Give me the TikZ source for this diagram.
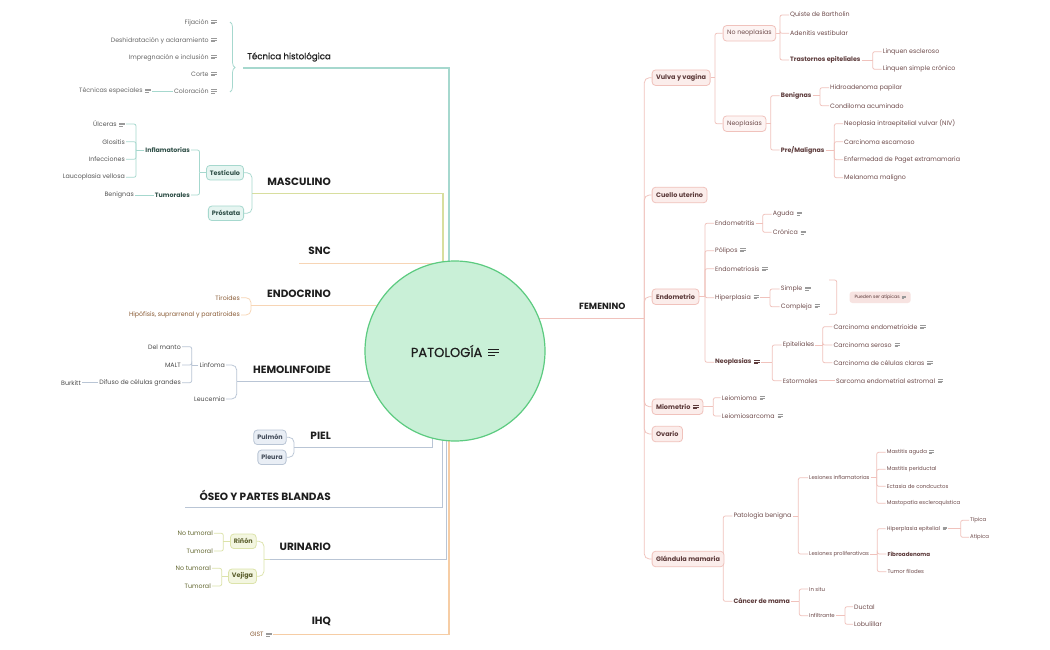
\documentclass[tikz,border=0pt]{standalone}
\usepackage{fontspec}
\setmainfont{Poppins}
\newfontfamily\popmed[FakeBold=0.6]{Poppins}
\usetikzlibrary{backgrounds,decorations.pathreplacing}
\definecolor{tecLine}{HTML}{A6D8CE}
\definecolor{mascLine}{HTML}{D8DE9E}
\definecolor{peachLine}{HTML}{F7D5B5}
\definecolor{greyBlue}{HTML}{B9C5D5}
\definecolor{ihqLine}{HTML}{F6CDA5}
\definecolor{femLine}{HTML}{F0C2BC}
\definecolor{femFill}{HTML}{FBEDEB}
\definecolor{femText}{HTML}{5C3A3A}
\definecolor{femLeaf}{HTML}{6E4B4B}
\definecolor{mintFill}{HTML}{E6F5F1}
\definecolor{mintText}{HTML}{2F4F47}
\definecolor{blueFill}{HTML}{E9EEF5}
\definecolor{blueText}{HTML}{434C5A}
\definecolor{oliveLine}{HTML}{DCE3AA}
\definecolor{oliveFill}{HTML}{F3F6E0}
\definecolor{oliveText}{HTML}{5A5E2C}
\definecolor{oliveLeaf}{HTML}{62662F}
\definecolor{brownText}{HTML}{8A5C36}
\definecolor{tecLeaf}{HTML}{666666}
\definecolor{mascLeaf}{HTML}{555555}
\definecolor{hemoLeaf}{HTML}{4A4A4A}
\definecolor{iconGray}{HTML}{9A9A9A}
\definecolor{patFill}{HTML}{C9F0D7}
\definecolor{patLine}{HTML}{5CCB80}
\definecolor{headBlack}{HTML}{1E1E1E}
\definecolor{atipFill}{HTML}{F7E3E1}
\newcommand{\fs}[1]{\fontsize{#1}{#1}\selectfont}
\newcommand{\noteic}[1][iconGray]{\hspace{0.45em}{\color{#1}\raisebox{0.05em}{\vbox{%
  \hrule width 0.85em height 0.1em\vskip0.14em
  \hrule width 0.85em height 0.1em\vskip0.14em
  \hrule width 0.55em height 0.1em}}}}
\tikzset{
  main/.style={line width=1.3pt},
  sub/.style={line width=0.75pt,rounded corners=2pt},
  curvy/.style={line width=0.75pt,rounded corners=5pt},
  hd/.style={inner sep=0pt,font=\fs{10.5}\bfseries,text=headBlack},
  lf/.style={inner sep=1pt,font=\fs{6.3}},
  lfb/.style={inner sep=1pt,font=\fs{6.3}\bfseries},
  lfs/.style={inner sep=1pt,font=\fs{5.4}},
  femlf/.style={lf,text=femLeaf,anchor=west},
  femlfb/.style={lfb,text=femText,anchor=west},
  femlfs/.style={lfs,text=femLeaf,anchor=west},
  boxF/.style={draw=femLine,fill=femFill,line width=0.8pt,rounded corners=3.5pt,
    inner xsep=4pt,minimum height=15.5pt,font=\fs{6.5}\bfseries,text=femText,anchor=west},
  boxFl/.style={boxF,fill=femFill!60,font=\fs{6.3},text=femLeaf},
  boxT/.style={draw=tecLine,fill=mintFill,line width=0.8pt,rounded corners=3.5pt,
    inner xsep=3.5pt,minimum height=14.5pt,font=\fs{6.4}\bfseries,text=mintText},
  boxB/.style={boxT,draw=greyBlue,fill=blueFill,text=blueText},
  boxO/.style={boxT,draw=oliveLine,fill=oliveFill,text=oliveText},
}
\begin{document}
\begin{tikzpicture}[x=1pt,y=-1pt]
\useasboundingbox (0,0) rectangle (1050,650);

% Central topic.
\node[circle,draw=patLine,fill=patFill,line width=1.2pt,minimum size=180pt,inner sep=0pt,
  font=\fs{13}\popmed,text=headBlack] (pat) at (455,351) {PATOLOGÍA\noteic[headBlack]};

% Main headings.
\node[hd,anchor=east,font=\fs{8.6}\popmed] (tec) at (331,57) {Técnica histológica};
\node[hd,anchor=east] (masc) at (331,181.5) {MASCULINO};
\node[hd,anchor=east] (snc) at (331,251) {SNC};
\node[hd,anchor=east] (endc) at (331,294) {ENDOCRINO};
\node[hd,anchor=east] (hemo) at (331,369.3) {HEMOLINFOIDE};
\node[hd,anchor=east] (piel) at (331,435.7) {PIEL};
\node[hd,anchor=east] (oseo) at (331,495) {ÓSEO Y PARTES BLANDAS};
\node[hd,anchor=east] (urin) at (331,546.7) {URINARIO};
\node[hd,anchor=east] (ihq) at (331,621.7) {IHQ};
\node[hd,anchor=west,font=\fs{9}\bfseries] (fem) at (579,306.7) {FEMENINO};

% Underline ends and corners.
\coordinate (tecL) at (243,68);     \coordinate (tecC) at (449,68);
\coordinate (mascL) at (252,193.3); \coordinate (mascC) at (443,193.3);
\coordinate (sncL) at (299,263.3);
\coordinate (endcL) at (251,305.7);
\coordinate (hemoL) at (236.7,381.7);
\coordinate (pielL) at (294,447.7); \coordinate (pielC) at (432.7,447.7);
\coordinate (oseoL) at (185,507.3); \coordinate (oseoC) at (442.7,507.3);
\coordinate (urinL) at (270,559.3); \coordinate (urinC) at (446.7,559.3);
\coordinate (ihqL) at (276.7,634.3); \coordinate (ihqC) at (449,634.3);
\coordinate (femV) at (644.3,318.3);

% Técnica histológica.
\node[lf,text=tecLeaf,anchor=east] (fij) at (218,22.5) {Fijación\noteic};
\node[lf,text=tecLeaf,anchor=east] (desh) at (218,40.5) {Deshidratación y aclaramiento\noteic};
\node[lf,text=tecLeaf,anchor=east] (impr) at (218,57.5) {Impregnación e inclusión\noteic};
\node[lf,text=tecLeaf,anchor=east] (corte) at (218,74) {Corte\noteic};
\node[lf,text=tecLeaf,anchor=east] (colo) at (218,91) {Coloración\noteic};
\node[lf,text=tecLeaf,anchor=east] (tesp) at (152,91) {Técnicas especiales\noteic};
\coordinate (tecB1) at (230,22); \coordinate (tecB2) at (230,92);

% Masculino.
\node[boxT] (test) at (225,172.7) {Testículo};
\node[boxT] (pros) at (226,213.3) {Próstata};
\node[lfb,text=mintText,anchor=east] (infl) at (191,150) {Inflamatorias};
\node[lfb,text=mintText,anchor=east] (tumo) at (191,195) {Tumorales};
\node[lf,text=mascLeaf,anchor=east] (ulce) at (126,124) {Úlceras\noteic};
\node[lf,text=mascLeaf,anchor=east] (glos) at (126,141.7) {Glositis};
\node[lf,text=mascLeaf,anchor=east] (infe) at (126,159.3) {Infecciones};
\node[lf,text=mascLeaf,anchor=east] (lauc) at (126,177.3) {Laucoplasia vellosa};
\node[lf,text=mascLeaf,anchor=east] (beng) at (135,195) {Benignas};
\coordinate (testV) at (199.5,172.7);
\coordinate (inflV) at (136,150);

% Endocrino.
\node[lf,text=brownText,anchor=east] (tiro) at (241,297.7) {Tiroides};
\node[lf,text=brownText,anchor=east] (hipo) at (241,315) {Hipófisis, suprarrenal y paratiroides};

% Hemolinfoide.
\node[lf,text=hemoLeaf,anchor=east] (linf) at (226,365) {Linfoma};
\node[lf,text=hemoLeaf,anchor=east] (leuc) at (226,399) {Leucemia};
\node[lf,text=hemoLeaf,anchor=east] (dman) at (182,346.7) {Del manto};
\node[lf,text=hemoLeaf,anchor=east] (malt) at (182,365) {MALT};
\node[lf,text=hemoLeaf,anchor=east] (difu) at (182,382.7) {Difuso de células grandes};
\node[lf,text=hemoLeaf,anchor=east] (burk) at (82,382.7) {Burkitt};
\coordinate (linfV) at (191.7,365);

% Piel.
\node[boxB] (pulm) at (270,437.3) {Pulmón};
\node[boxB] (pleu) at (272,457.3) {Pleura};

% Urinario.
\node[boxO] (rino) at (243.3,541.3) {Riñón};
\node[boxO] (veji) at (242.5,576.3) {Vejiga};
\node[lf,text=oliveLeaf,anchor=east] (rnt) at (214,533.3) {No tumoral};
\node[lf,text=oliveLeaf,anchor=east] (rtu) at (214,551) {Tumoral};
\node[lf,text=oliveLeaf,anchor=east] (vnt) at (212,568.3) {No tumoral};
\node[lf,text=oliveLeaf,anchor=east] (vtu) at (212,586) {Tumoral};
\coordinate (urinJ) at (264,559.3);
\coordinate (rinoV) at (223.3,541.3);
\coordinate (vejiV) at (221.7,576.3);

% IHQ.
\node[lf,text=brownText,anchor=east] (gist) at (273,634.3) {GIST\noteic};

% Femenino: first level.
\node[boxF] (vulv) at (651.7,77.7) {Vulva y vagina};
\node[boxF] (cuel) at (651.7,195) {Cuello uterino};
\node[boxF] (endm) at (651.7,296.7) {Endometrio};
\node[boxF] (miom) at (651.7,406.7) {Miometrio\noteic[femText]};
\node[boxF] (ovar) at (651.7,434) {Ovario};
\node[boxF] (glan) at (651.7,559) {Glándula mamaria};

% Vulva y vagina.
\node[boxFl] (nneo) at (722.7,33.3) {No neoplasias};
\node[boxFl] (neop) at (722.7,123.7) {Neoplasias};
\node[femlf] (quis) at (789,15) {Quiste de Bartholin};
\node[femlf] (aden) at (789,33.3) {Adenitis vestibular};
\node[femlfb] (tras) at (789,60) {Trastornos epiteliales};
\node[femlf] (lesc) at (881.7,51.7) {Linquen escleroso};
\node[femlf] (lsim) at (881.7,69.3) {Linquen simple crónico};
\node[femlfb] (beni) at (779.7,95.7) {Benignas};
\node[femlfb] (prem) at (779.7,150) {Pre/Malignas};
\node[femlf] (hidr) at (829,87.7) {Hidroadenoma papilar};
\node[femlf] (cond) at (829,105.7) {Condiloma acuminado};
\node[femlf] (niv) at (843,123.7) {Neoplasia intraepitelial vulvar (NIV)};
\node[femlf] (cesc) at (843,141.7) {Carcinoma escamoso};
\node[femlf] (epag) at (843,159.7) {Enfermedad de Paget extramamaria};
\node[femlf] (mela) at (843,177.7) {Melanoma maligno};
\coordinate (vulvV) at (715,77.7);
\coordinate (nneoV) at (780,33.3);
\coordinate (trasV) at (872.7,60);
\coordinate (neopV) at (770.7,123.7);
\coordinate (beniV) at (820,95.7);
\coordinate (premV) at (834.3,150);

% Endometrio.
\node[femlf] (emtr) at (714,223.3) {Endometritis};
\node[femlf] (poli) at (714,250.7) {Pólipos\noteic};
\node[femlf] (emsi) at (714,268.7) {Endometriosis\noteic};
\node[femlf] (hipe) at (714,297.7) {Hiperplasia\noteic};
\node[femlfb] (neo2) at (714,362.3) {Neoplasias\noteic[femText]};
\node[femlf] (agud) at (771.7,214.3) {Aguda\noteic};
\node[femlf] (cron) at (771.7,232.3) {Crónica\noteic};
\node[femlf] (simp) at (779.7,289) {Simple\noteic};
\node[femlf] (comp) at (779.7,306.7) {Compleja\noteic};
\node[fill=atipFill,rounded corners=3pt,inner xsep=5pt,minimum height=10pt,font=\fs{4.6},
  text=femText,anchor=west] (atip) at (849.3,297.3) {Pueden ser atípicas\noteic};
\node[femlf] (epit) at (781.7,345) {Epiteliales};
\node[femlf] (estr) at (781.7,380.7) {Estormales};
\node[femlf] (cend) at (832.3,326.7) {Carcinoma endometrioide\noteic};
\node[femlf] (cser) at (832.3,345) {Carcinoma seroso\noteic};
\node[femlf] (ccla) at (832.3,362.7) {Carcinoma de células claras\noteic};
\node[femlf] (sarc) at (835,380.7) {Sarcoma endometrial estromal\noteic};
\coordinate (endmV) at (705,296.7);
\coordinate (emtrV) at (762.7,223.3);
\coordinate (hipeV) at (770,297.7);
\coordinate (sumT) at (829,280);
\coordinate (sumB) at (829,314.3);
\coordinate (neo2V) at (772.3,362.3);
\coordinate (epitV) at (822.7,345);

% Miometrio.
\node[femlf] (leio) at (720.7,397.7) {Leiomioma\noteic};
\node[femlf] (lsar) at (720.7,416) {Leiomiosarcoma\noteic};
\coordinate (miomV) at (713.3,406.7);

% Glándula mamaria.
\node[femlf] (pben) at (732.3,516) {Patología benigna};
\node[femlfb] (cmam) at (732.3,601.3) {Cáncer de mama};
\node[femlfs] (lein) at (808,477.7) {Lesiones inflamatorias};
\node[femlfs] (lepr) at (808,554) {Lesiones proliferativas};
\node[femlfs] (maag) at (885.7,452.3) {Mastitis aguda\noteic};
\node[femlfs] (mape) at (885.7,469.3) {Mastitis periductal};
\node[femlfs] (ecta) at (885.7,486.3) {Ectasia de condcuctos};
\node[femlfs] (maes) at (885.7,503.3) {Mastopatía escleroquística};
\node[femlfs] (hepi) at (885.7,528.7) {Hiperplasia epitelial\noteic};
\node[lfb,font=\fs{5.6}\bfseries,text=femText,anchor=west] (fibr) at (886.3,554) {Fibroadenoma};
\node[femlfs] (tfil) at (886.3,571.7) {Tumor filodes};
\node[femlfs] (tipi) at (969,520.3) {Típica};
\node[femlfs] (atpc) at (969,537.3) {Atípica};
\node[femlfs] (insi) at (808,589) {In situ};
\node[femlfs] (infi) at (808,615.7) {Infiltrante};
\node[femlf] (duct) at (853,606.7) {Ductal};
\node[femlf] (lobu) at (853,624.3) {Lobulillar};
\coordinate (glanV) at (723.3,559);
\coordinate (pbenV) at (798.3,516);
\coordinate (leinV) at (876.7,477.7);
\coordinate (leprV) at (877.3,554);
\coordinate (hepiV) at (960.7,528.7);
\coordinate (cmamV) at (799.3,601.3);
\coordinate (infiV) at (845,615.7);

\begin{pgfonlayer}{background}
\fill[white] (0,0) rectangle (1050,650);

% Main branches run under the central circle.
\draw[main,tecLine] (tecL) -- (tecC) -- (tecC |- pat.center);
\draw[main,mascLine] (mascL) -- (mascC) -- (mascC |- pat.center);
\draw[main,peachLine] (sncL) -- (sncL -| pat.center);
\draw[main,peachLine] (endcL) -- (endcL -| pat.center);
\draw[main,greyBlue] (hemoL) -- (hemoL -| pat.center);
\draw[main,greyBlue] (pielL) -- (pielC) -- (pielC |- pat.center);
\draw[main,greyBlue] (oseoL) -- (oseoC) -- (oseoC |- pat.center);
\draw[main,greyBlue] (urinL) -- (urinC) -- (urinC |- pat.center);
\draw[main,ihqLine] (ihqL) -- (ihqC) -- (ihqC |- pat.center);
\draw[main,femLine] (femV -| pat.center) -- (femV);

% Left side.
\draw[line width=0.75pt,tecLine,decorate,decoration={brace,amplitude=5pt,aspect=0.65}] (tecB1) -- (tecB2);
\draw[sub,tecLine] (colo.west) -- (tesp.east);
\foreach \c in {test,pros} \draw[curvy,tecLine] (mascL) |- (\c.east);
\draw[sub,tecLine] (test.west) -- (testV);
\foreach \c in {infl,tumo} \draw[sub,tecLine] (testV) |- (\c.east);
\draw[sub,tecLine] (infl.west) -- (inflV);
\foreach \c in {ulce,glos,infe,lauc} \draw[sub,tecLine] (inflV) |- (\c.east);
\draw[sub,tecLine] (tumo.west) -- (beng.east);
\foreach \c in {tiro,hipo} \draw[curvy,peachLine] (endcL) |- (\c.east);
\foreach \c in {linf,leuc} \draw[curvy,greyBlue] (hemoL) |- (\c.east);
\draw[sub,greyBlue] (linf.west) -- (linfV);
\foreach \c in {dman,malt,difu} \draw[sub,greyBlue] (linfV) |- (\c.east);
\draw[sub,greyBlue] (difu.west) -- (burk.east);
\foreach \c in {pulm,pleu} \draw[curvy,greyBlue] (pielL) |- (\c.east);
\draw[sub,oliveLine] (urinJ) -- (urinL);
\foreach \c in {rino,veji} \draw[curvy,oliveLine] (urinJ) |- (\c.east);
\draw[sub,oliveLine] (rino.west) -- (rinoV);
\foreach \c in {rnt,rtu} \draw[sub,oliveLine] (rinoV) |- (\c.east);
\draw[sub,oliveLine] (veji.west) -- (vejiV);
\foreach \c in {vnt,vtu} \draw[sub,oliveLine] (vejiV) |- (\c.east);
\draw[sub,ihqLine] (gist.east) -- (ihqL);

% Right side.
\foreach \c in {vulv,cuel,endm,miom,ovar,glan} \draw[curvy,femLine] (femV) |- (\c.west);
\draw[sub,femLine] (vulv.east) -- (vulvV);
\foreach \c in {nneo,neop} \draw[sub,femLine] (vulvV) |- (\c.west);
\draw[sub,femLine] (nneo.east) -- (nneoV);
\foreach \c in {quis,aden,tras} \draw[sub,femLine] (nneoV) |- (\c.west);
\draw[sub,femLine] (tras.east) -- (trasV);
\foreach \c in {lesc,lsim} \draw[sub,femLine] (trasV) |- (\c.west);
\draw[sub,femLine] (neop.east) -- (neopV);
\foreach \c in {beni,prem} \draw[sub,femLine] (neopV) |- (\c.west);
\draw[sub,femLine] (beni.east) -- (beniV);
\foreach \c in {hidr,cond} \draw[sub,femLine] (beniV) |- (\c.west);
\draw[sub,femLine] (prem.east) -- (premV);
\foreach \c in {niv,cesc,epag,mela} \draw[sub,femLine] (premV) |- (\c.west);

\draw[sub,femLine] (endm.east) -- (endmV);
\foreach \c in {emtr,poli,emsi,hipe,neo2} \draw[sub,femLine] (endmV) |- (\c.west);
\draw[sub,femLine] (emtr.east) -- (emtrV);
\foreach \c in {agud,cron} \draw[sub,femLine] (emtrV) |- (\c.west);
\draw[sub,femLine] (hipe.east) -- (hipeV);
\foreach \c in {simp,comp} \draw[sub,femLine] (hipeV) |- (\c.west);
\draw[sub,femLine] (sumT) -- ++(7.7,0) -- ([xshift=7.7]sumB) -- (sumB);
\draw[sub,femLine] (neo2.east) -- (neo2V);
\foreach \c in {epit,estr} \draw[sub,femLine] (neo2V) |- (\c.west);
\draw[sub,femLine] (epit.east) -- (epitV);
\foreach \c in {cend,cser,ccla} \draw[sub,femLine] (epitV) |- (\c.west);
\draw[sub,femLine] (estr.east) -- (sarc.west);

\draw[sub,femLine] (miom.east) -- (miomV);
\foreach \c in {leio,lsar} \draw[sub,femLine] (miomV) |- (\c.west);

\draw[sub,femLine] (glan.east) -- (glanV);
\foreach \c in {pben,cmam} \draw[sub,femLine] (glanV) |- (\c.west);
\draw[sub,femLine] (pben.east) -- (pbenV);
\foreach \c in {lein,lepr} \draw[sub,femLine] (pbenV) |- (\c.west);
\draw[sub,femLine] (lein.east) -- (leinV);
\foreach \c in {maag,mape,ecta,maes} \draw[sub,femLine] (leinV) |- (\c.west);
\draw[sub,femLine] (lepr.east) -- (leprV);
\foreach \c in {hepi,fibr,tfil} \draw[sub,femLine] (leprV) |- (\c.west);
\draw[sub,femLine] (hepi.east) -- (hepiV);
\foreach \c in {tipi,atpc} \draw[sub,femLine] (hepiV) |- (\c.west);
\draw[sub,femLine] (cmam.east) -- (cmamV);
\foreach \c in {insi,infi} \draw[sub,femLine] (cmamV) |- (\c.west);
\draw[sub,femLine] (infi.east) -- (infiV);
\foreach \c in {duct,lobu} \draw[sub,femLine] (infiV) |- (\c.west);
\end{pgfonlayer}

\end{tikzpicture}
\end{document}
